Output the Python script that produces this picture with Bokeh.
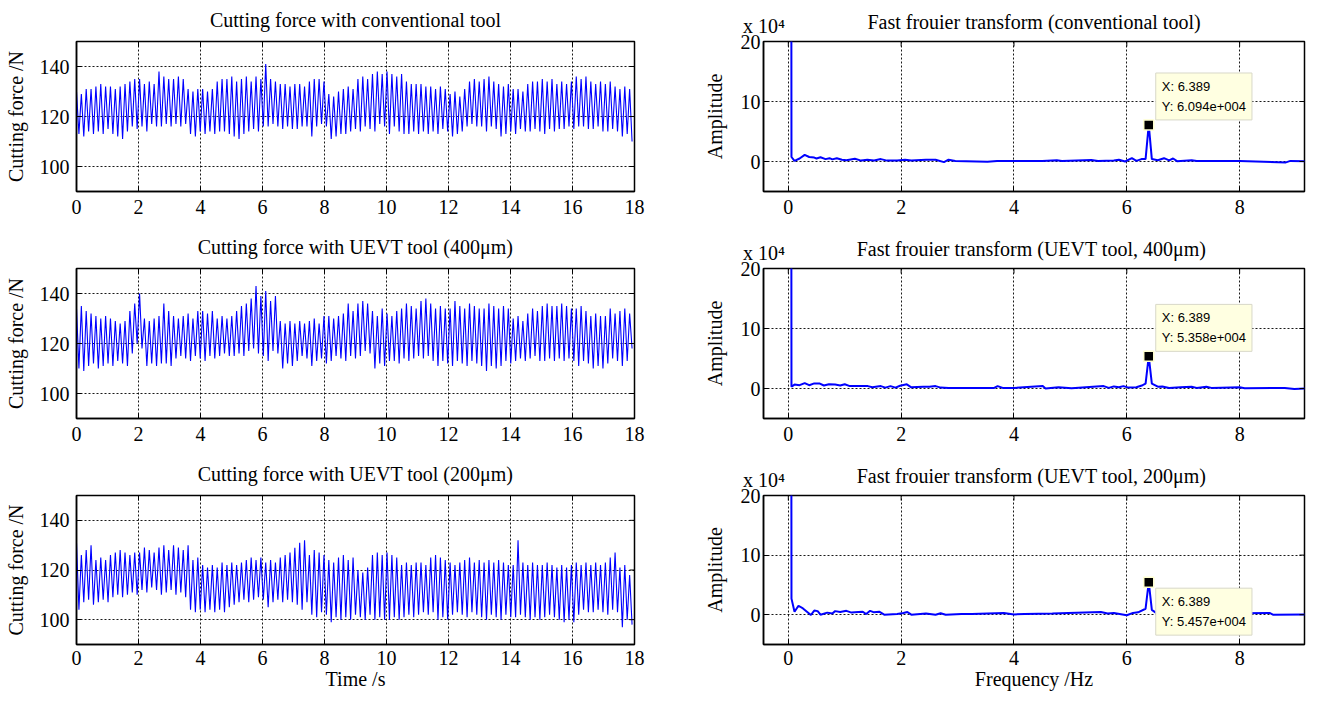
import math
from bokeh.plotting import figure
from bokeh.layouts import column, row
from bokeh.models import FixedTicker, Range1d, Label, LinearAxis
from bokeh.embed import file_html
from bokeh.resources import INLINE

# ---------------- data ----------------
SPINDLE_FREQ = 6.389  # Hz, dominant cutting-force frequency (cycle spacing of the time traces)

left_titles = ["Cutting force with conventional tool",
               "Cutting force with UEVT tool (400μm)",
               "Cutting force with UEVT tool (200μm)"]
right_titles = ["Fast frouier transform (conventional tool)",
                "Fast frouier transform (UEVT  tool, 400μm)",
                "Fast frouier transform (UEVT  tool, 200μm)"]
amp_scale_text = "x 10⁴"

time_ticks = [0, 2, 4, 6, 8, 10, 12, 14, 16, 18]
force_ticks = [100, 120, 140]
freq_ticks = [0, 2, 4, 6, 8]
amp_ticks = [0, 10, 20]

# cutting force, per-cycle maxima / minima (N)
conv_peaks = [130, 129, 131, 131, 132, 133, 132,
              132, 131, 132, 133, 134, 135,
              135, 133, 134, 133, 138, 136, 135,
              135, 136, 135, 131, 130, 131,
              131, 130, 131, 134, 135, 135,
              136, 134, 135, 136, 134, 136, 135,
              141, 135, 134, 133, 133, 132,
              133, 133, 132, 134, 135, 135, 134,
              129, 128, 130, 131, 132, 131,
              135, 136, 135, 137, 138, 137,
              138, 137, 136, 137, 134, 133, 133,
              133, 132, 132, 131, 132, 131,
              129, 130, 128, 131, 134, 135, 134,
              135, 136, 134, 133, 132, 133,
              131, 131, 130, 133, 134, 134,
              135, 134, 135, 133, 134, 133, 134,
              136, 135, 136, 134, 133, 134,
              133, 134, 132, 131, 132, 131]
conv_troughs = [113, 112, 114, 113, 114, 113, 115,
                113, 112, 111, 114, 116, 115,
                116, 114, 117, 116, 116, 117, 116,
                117, 116, 117, 113, 112, 114,
                113, 114, 113, 114, 114, 113,
                112, 111, 113, 114, 115, 114, 116,
                116, 117, 116, 115, 116, 115,
                115, 116, 116, 112, 116, 117, 116,
                111, 112, 113, 113, 114, 115,
                114, 116, 115, 114, 117, 116,
                113, 116, 114, 113, 113, 114, 113,
                114, 113, 114, 113, 115, 114,
                112, 113, 114, 116, 117, 116, 116,
                114, 116, 115, 112, 113, 114,
                113, 115, 114, 114, 115, 114,
                113, 115, 114, 115, 115, 116, 115,
                116, 116, 115, 115, 116, 114,
                114, 115, 114, 112, 113, 110]

uevt400_peaks = [134, 135, 133, 132, 131, 130, 131,
                 130, 129, 128, 129, 133, 136,
                 140, 130, 129, 130, 131, 136, 133,
                 131, 130, 131, 132, 130, 133,
                 133, 132, 133, 130, 131, 130,
                 131, 133, 135, 136, 138, 143, 139,
                 141, 137, 139, 129, 128, 129,
                 128, 129, 128, 129, 130, 128, 131,
                 131, 130, 131, 132, 136, 133,
                 136, 137, 136, 133, 131, 134,
                 132, 131, 133, 134, 136, 135, 134,
                 137, 138, 136, 134, 135, 134,
                 134, 137, 135, 134, 136, 135, 134,
                 134, 136, 135, 134, 135, 134,
                 130, 131, 129, 132, 134, 133,
                 135, 136, 135, 135, 136, 135, 134,
                 134, 135, 133, 131, 132, 131,
                 131, 134, 132, 133, 134, 132]
uevt400_troughs = [110, 109, 111, 112, 110, 111, 112,
                   111, 113, 112, 111, 116, 120,
                   118, 111, 112, 111, 112, 112, 111,
                   114, 115, 114, 113, 115, 114,
                   113, 115, 114, 115, 116, 115,
                   115, 116, 115, 117, 118, 116, 115,
                   113, 117, 116, 110, 112, 111,
                   113, 115, 114, 111, 113, 114, 112,
                   113, 115, 114, 113, 115, 114,
                   115, 117, 116, 110, 112, 111,
                   113, 113, 112, 114, 113, 114, 115,
                   114, 115, 113, 111, 113, 112,
                   111, 113, 112, 111, 113, 112, 111,
                   109, 111, 110, 111, 113, 112,
                   113, 114, 113, 114, 115, 113,
                   113, 114, 113, 114, 113, 114, 113,
                   111, 113, 112, 110, 111, 110,
                   112, 114, 113, 111, 113, 118]

uevt200_peaks = [131, 126, 128, 130, 124, 125, 124,
                 126, 127, 128, 127, 126, 127,
                 127, 129, 128, 127, 129, 130, 128,
                 130, 129, 128, 130, 124, 125,
                 122, 121, 122, 121, 123, 122,
                 123, 122, 123, 124, 125, 124, 125,
                 123, 124, 123, 125, 126, 127,
                 129, 131, 132, 126, 128, 127, 126,
                 124, 123, 125, 126, 124, 125,
                 120, 119, 121, 126, 127, 126,
                 127, 126, 125, 122, 123, 122, 123,
                 123, 122, 125, 126, 125, 124,
                 123, 122, 123, 124, 125, 123, 124,
                 123, 124, 123, 124, 123, 122,
                 122, 132, 123, 122, 123, 122,
                 122, 123, 122, 121, 122, 121, 122,
                 123, 122, 123, 122, 123, 122,
                 123, 125, 127, 121, 122, 118]
uevt200_troughs = [104, 107, 108, 106, 107, 108, 107,
                   109, 110, 109, 110, 111, 110,
                   112, 111, 113, 112, 110, 111, 112,
                   110, 111, 109, 104, 103, 104,
                   103, 104, 103, 104, 103, 105,
                   106, 107, 108, 107, 108, 109, 108,
                   105, 107, 108, 107, 108, 107,
                   106, 104, 107, 102, 101, 103, 102,
                   99, 101, 100, 101, 100, 102,
                   101, 100, 102, 100, 101, 100,
                   100, 101, 100, 101, 102, 101, 102,
                   103, 102, 103, 100, 101, 100,
                   102, 103, 102, 101, 103, 102, 101,
                   100, 102, 101, 100, 102, 101,
                   101, 102, 101, 100, 101, 100,
                   101, 102, 101, 100, 99, 100, 99,
                   102, 104, 103, 103, 104, 103,
                   102, 104, 103, 97, 100, 98]

# FFT amplitude (x 10^4) versus frequency (Hz)
conv_freq = [0, 0.056, 0.11, 0.2, 0.29, 0.37, 0.46, 0.5, 0.57, 0.66, 0.73, 0.78, 0.86, 0.95,
             1.03, 1.18, 1.29, 1.4, 1.52, 1.64, 1.75, 1.93, 2.07, 2.18, 2.44, 2.61, 2.76,
             2.84, 2.96, 3.53, 3.7, 4.0, 4.5, 4.76, 4.85, 5.37, 5.49, 5.77, 5.86, 5.97,
             6.09, 6.17, 6.26, 6.333, 6.389, 6.444, 6.55, 6.66, 6.75, 6.82, 6.89, 7.15,
             7.24, 8.0, 8.82, 8.9, 9.2]
conv_amp = [600, 0.75, 0.1, 0.5, 1.1, 0.75, 0.65, 0.5, 0.7, 0.4, 0.55, 0.35, 0.55, 0.3,
            0.2, 0.45, 0.15, 0.3, 0.15, 0.4, 0.15, 0.15, 0.3, 0.15, 0.3, 0.3, -0.1,
            0.3, 0.1, -0.05, 0.1, 0.1, 0.1, 0.2, 0.1, 0.25, 0.1, 0.15, 0.3, 0.0,
            0.55, 0.1, 0.4, 0.4, 6.094, 0.4, 0.2, 0.55, 0.2, 0.5, 0.05, 0.2,
            0.1, 0.1, -0.15, 0.1, 0.05]

u400_freq = [0, 0.056, 0.11, 0.2, 0.29, 0.37, 0.46, 0.55, 0.63, 0.72, 0.83, 0.92, 1.0,
             1.09, 1.41, 1.49, 1.64, 1.72, 1.81, 1.9, 1.98, 2.1, 2.18, 2.39, 2.5, 2.61,
             2.7, 2.84, 3.65, 3.71, 3.8, 4.0, 4.51, 4.56, 4.79, 5.02, 5.59, 5.68, 5.77,
             5.86, 5.94, 6.03, 6.17, 6.28, 6.333, 6.389, 6.444, 6.55, 6.63, 6.75, 6.95,
             7.15, 7.24, 7.41, 7.5, 8.0, 8.09, 8.8, 8.97, 9.2]
u400_amp = [600, 0.3, 0.65, 0.55, 0.9, 0.55, 0.85, 0.85, 0.5, 0.7, 0.65, 0.5, 0.7,
            0.4, 0.4, 0.2, 0.4, 0.15, 0.4, 0.15, 0.45, 0.7, 0.2, 0.3, 0.3, 0.4,
            0.15, 0.1, 0.1, 0.4, 0.1, 0.1, 0.4, 0.0, 0.2, 0.05, 0.4, 0.1, 0.35,
            0.2, 0.4, 0.15, 0.2, 0.55, 0.8, 5.358, 0.8, 0.3, 0.35, 0.1, 0.2,
            0.3, 0.1, 0.3, 0.1, 0.2, 0.05, 0.1, -0.1, 0.0]

u200_freq = [0, 0.056, 0.11, 0.18, 0.26, 0.33, 0.4, 0.46, 0.52, 0.57, 0.69, 0.78, 0.83,
             0.92, 1.03, 1.12, 1.24, 1.32, 1.38, 1.45, 1.52, 1.61, 1.7, 1.93, 2.04, 2.11,
             2.18, 2.44, 2.61, 2.7, 2.79, 3.07, 3.25, 3.82, 4.0, 4.19, 4.68, 5.54, 5.66,
             5.77, 6.0, 6.11, 6.2, 6.333, 6.389, 6.444, 6.55, 8.53, 8.59, 9.2]
u200_amp = [600, 2.7, 0.5, 1.5, 1.05, 0.5, -0.05, 0.7, 0.6, 0.0, 0.35, 0.2, 0.6,
            0.45, 0.65, 0.35, 0.45, 0.5, 0.1, 0.65, 0.4, 0.5, 0.0, 0.1, 0.3, 0.45,
            0.0, 0.2, 0.0, 0.25, 0.0, 0.1, 0.1, 0.3, 0.05, 0.1, 0.2, 0.45, 0.2,
            0.3, -0.1, 0.3, 0.4, 1.0, 5.457, 0.8, 0.1, 0.3, 0.0, 0.05]

force_series = [(conv_peaks, conv_troughs), (uevt400_peaks, uevt400_troughs),
                (uevt200_peaks, uevt200_troughs)]
fft_series = [(conv_freq, conv_amp), (u400_freq, u400_amp), (u200_freq, u200_amp)]
tip_below = [False, False, True]

# ---------------- styling ----------------
SERIF = "Liberation Serif"
SANS = "Liberation Sans"
BLUE = "#0000FF"


def style(p, xticks, yticks, label_standoff_y, label_standoff_x):
    bx, ly = p.below[0], p.left[0]
    bx.ticker = FixedTicker(ticks=xticks)
    ly.ticker = FixedTicker(ticks=yticks)
    for ax in (bx, ly):
        ax.major_label_text_font = SERIF
        ax.major_label_text_font_size = "20px"
        ax.major_label_text_color = "black"
        ax.axis_line_color = "black"
        ax.axis_line_width = 1.5
        ax.major_tick_in = 5
        ax.major_tick_out = 0
        ax.major_tick_line_color = "black"
        ax.minor_tick_line_color = None
        ax.axis_label_text_font = SERIF
        ax.axis_label_text_font_size = "20px"
        ax.axis_label_text_font_style = "normal"
        ax.axis_label_text_color = "black"
    bx.major_label_standoff = label_standoff_x
    bx.axis_label_standoff = 0
    ly.major_label_standoff = label_standoff_y
    p.grid.grid_line_color = "black"
    p.grid.grid_line_dash = "2 2"
    p.grid.grid_line_width = 1
    p.grid.grid_line_alpha = 0.9
    p.outline_line_color = "black"
    p.outline_line_width = 1.5
    p.outline_line_alpha = 1
    p.background_fill_color = "white"
    p.border_fill_color = "white"
    # box ticks on the top and right edges (only the inner half survives frame clipping)
    xr, yr = p.x_range, p.y_range
    p.scatter(xticks, [yr.end] * len(xticks), marker="dash", size=10,
              angle=math.pi / 2, line_color="black", line_width=1)
    p.scatter([xr.end] * len(yticks), yticks, marker="dash", size=10,
              line_color="black", line_width=1)


def title_axis(p, title, scale_text=None):
    """Title (and optional amplitude scale note) drawn by an axis placed above the frame."""
    if scale_text is None:
        ax = LinearAxis(ticker=FixedTicker(ticks=[]))
        ax.major_label_standoff = 0
        ax.axis_label_standoff = 11
    else:
        tick = -0.43
        ax = LinearAxis(ticker=FixedTicker(ticks=[tick]),
                        major_label_overrides={tick: scale_text})
        ax.major_label_standoff = 5
        ax.axis_label_standoff = -21
        ax.major_label_text_align = "left"
    ax.axis_label = title
    ax.axis_line_color = None
    ax.major_tick_line_color = None
    ax.minor_tick_line_color = None
    ax.major_tick_in = 0
    ax.major_tick_out = 0
    ax.major_label_text_font = SERIF
    ax.major_label_text_font_size = "20px"
    ax.major_label_text_color = "black"
    ax.axis_label_text_font = SERIF
    ax.axis_label_text_font_size = "20px"
    ax.axis_label_text_font_style = "normal"
    ax.axis_label_text_color = "black"
    p.add_layout(ax, "above")


def matlab_exp(v):
    m, e = f"{v:.3e}".split("e")
    return f"{m}e{e[0]}{int(e[1:]):03d}"


TOP_B = 41
frame_h = [150, 150, 149]
bot_b = [36, 36, 52]
LEFT_W, RIGHT_W = 650, 657
rows = []
for k in range(3):
    last = (k == 2)
    bot = bot_b[k]
    H = TOP_B + frame_h[k] + bot
    # left: time trace
    peaks, troughs = force_series[k]
    xs, ys = [], []
    for i in range(len(peaks)):
        xs += [i / SPINDLE_FREQ, (i + 0.5) / SPINDLE_FREQ]
        ys += [peaks[i], troughs[i]]
    pl = figure(width=LEFT_W, height=H,
                x_range=Range1d(0, 18), y_range=Range1d(90, 150),
                output_backend="svg", toolbar_location=None,
                min_border_left=76, min_border_right=16,
                min_border_top=TOP_B, min_border_bottom=bot)
    pl.line(xs, ys, line_color=BLUE, line_width=1.1)
    style(pl, time_ticks, force_ticks, 7, 6 if last else 8)
    title_axis(pl, left_titles[k])
    pl.left[0].axis_label = "Cutting force /N"
    pl.left[0].axis_label_standoff = 10
    if last:
        pl.below[0].axis_label = "Time /s"

    # right: FFT
    fx, fa = fft_series[k]
    pr = figure(width=RIGHT_W, height=H,
                x_range=Range1d(-0.44, 9.15), y_range=Range1d(-5, 20),
                output_backend="svg", toolbar_location=None,
                min_border_left=113, min_border_right=3,
                min_border_top=TOP_B, min_border_bottom=bot)
    pr.line(fx, fa, line_color=BLUE, line_width=2)
    style(pr, freq_ticks, amp_ticks, 3, 6 if last else 8)
    title_axis(pr, right_titles[k], amp_scale_text)
    pr.left[0].axis_label = "Amplitude"
    pr.left[0].axis_label_standoff = 12
    if last:
        pr.below[0].axis_label = "Frequency /Hz"

    # data tip at the peak
    ip = max(range(1, len(fa)), key=lambda j: fa[j])
    px, py = fx[ip], fa[ip]
    pr.scatter([px], [py], marker="square", size=10, fill_color="black",
               line_color="#FFFFD0", line_width=1.5)
    tip = f"X: {px}\nY: {matlab_exp(py * 1e4)}"
    if tip_below[k]:
        lab = Label(x=px, y=py, x_offset=7, y_offset=-6, text=tip,
                    text_baseline="top", text_align="left")
    else:
        lab = Label(x=px, y=py, x_offset=7, y_offset=5, text=tip,
                    text_baseline="bottom", text_align="left")
    lab.text_font = SANS
    lab.text_font_size = "13px"
    lab.text_color = "black"
    lab.text_line_height = 1.33
    lab.padding = 6
    lab.background_fill_color = "#FFFFE1"
    lab.background_fill_alpha = 1
    lab.border_line_color = "#D8D8C8"
    lab.border_line_width = 1
    pr.add_layout(lab)

    rows.append(row(pl, pr))

page = column(*rows)
open("out.html", "w").write(file_html(page, INLINE))
